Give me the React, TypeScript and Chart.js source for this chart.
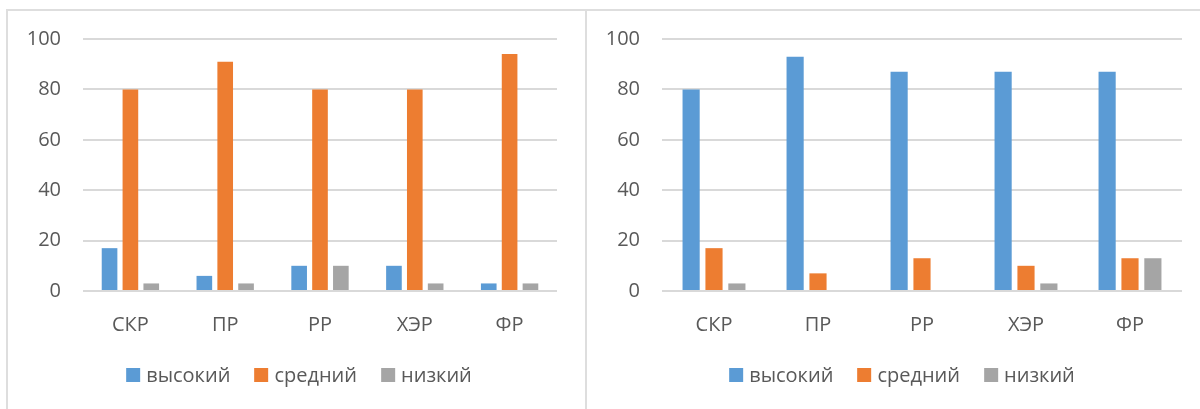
import React, { useEffect, useRef } from "react";
import { Chart, registerables } from "chart.js";

Chart.register(...registerables);

// ---- Data ----
const categories = ["СКР", "ПР", "РР", "ХЭР", "ФР"];
const seriesNames = ["высокий", "средний", "низкий"];
const seriesColors = ["#5b9bd5", "#ed7d31", "#a5a5a5"];
const yTicks = [0, 20, 40, 60, 80, 100];

const leftHigh = [17, 6, 10, 10, 3];
const leftMid = [80, 91, 80, 80, 94];
const leftLow = [3, 3, 10, 3, 3];

const rightHigh = [80, 93, 87, 87, 87];
const rightMid = [17, 7, 13, 10, 13];
const rightLow = [3, 0, 0, 3, 13];

const FONT = "'Open Sans', 'Noto Sans', sans-serif";
const TEXT = "#595959";
const FS = 20;

type PanelProps = {
  values: number[][];
  left: number;
  width: number;
  padRight: number;
  axisWidth: number;
  legendCenter: number;
};

function BarPanel({ values, left, width, padRight, axisWidth, legendCenter }: PanelProps) {
  const ref = useRef<HTMLCanvasElement | null>(null);
  useEffect(() => {
    if (!ref.current) return;
    const chart = new Chart(ref.current, {
      type: "bar",
      data: {
        labels: categories,
        datasets: seriesNames.map((name, i) => ({
          label: name,
          data: values[i],
          backgroundColor: seriesColors[i],
          borderWidth: 0,
          categoryPercentage: 0.66,
          barPercentage: 0.75,
        })),
      },
      options: {
        animation: false,
        responsive: false,
        devicePixelRatio: 1,
        layout: { padding: { top: 28, right: padRight, left: 0, bottom: 0 } },
        plugins: { legend: { display: false }, tooltip: { enabled: false } },
        scales: {
          x: {
            grid: { display: false },
            border: { display: false },
            ticks: { color: TEXT, font: { family: FONT, size: FS }, padding: 14 },
            afterFit: (s: any) => {
              s.height = 118;
            },
          },
          y: {
            min: 0,
            max: 100,
            afterBuildTicks: (s: any) => {
              s.ticks = yTicks.map((v) => ({ value: v }));
            },
            ticks: { color: TEXT, font: { family: FONT, size: FS }, padding: 22 },
            grid: { color: "#d9d9d9", lineWidth: 2, drawTicks: false },
            border: { display: false },
            afterFit: (s: any) => {
              s.width = axisWidth;
              s.paddingTop = 0;
              s.paddingBottom = 0;
            },
          },
        },
      },
    } as any);
    return () => chart.destroy();
  }, []);

  return (
    <>
      <canvas
        ref={ref}
        width={width}
        height={398}
        style={{ position: "absolute", left, top: 11, width, height: 398 }}
      />
      <div
        style={{
          position: "absolute",
          left: legendCenter,
          top: 363,
          transform: "translateX(-50%)",
          display: "flex",
          alignItems: "center",
          whiteSpace: "nowrap",
          fontFamily: FONT,
          fontSize: FS,
          color: TEXT,
          lineHeight: "24px",
        }}
      >
        {seriesNames.map((n, i) => (
          <div key={n} style={{ display: "flex", alignItems: "center", marginLeft: i === 0 ? 0 : 24 }}>
            <span style={{ display: "inline-block", width: 14, height: 14, background: seriesColors[i], marginRight: 6 }} />
            <span>{n}</span>
          </div>
        ))}
      </div>
    </>
  );
}

export default function App() {
  return (
    <div style={{ position: "fixed", left: 0, top: 0, width: 1200, height: 409, overflow: "hidden", background: "#fff" }}>
      <div
        style={{
          position: "absolute",
          left: 6,
          top: 9,
          width: 577,
          height: 420,
          borderTop: "2px solid #dedede",
          borderLeft: "2px solid #dedede",
          borderRight: "2px solid #dedede",
        }}
      />
      <div
        style={{
          position: "absolute",
          left: 587,
          top: 9,
          width: 640,
          height: 420,
          borderTop: "2px solid #dedede",
        }}
      />
      <BarPanel values={[leftHigh, leftMid, leftLow]} left={8} width={577} padRight={28} axisWidth={75} legendCenter={299} />
      <BarPanel values={[rightHigh, rightMid, rightLow]} left={587} width={634} padRight={39} axisWidth={75} legendCenter={902} />
    </div>
  );
}
